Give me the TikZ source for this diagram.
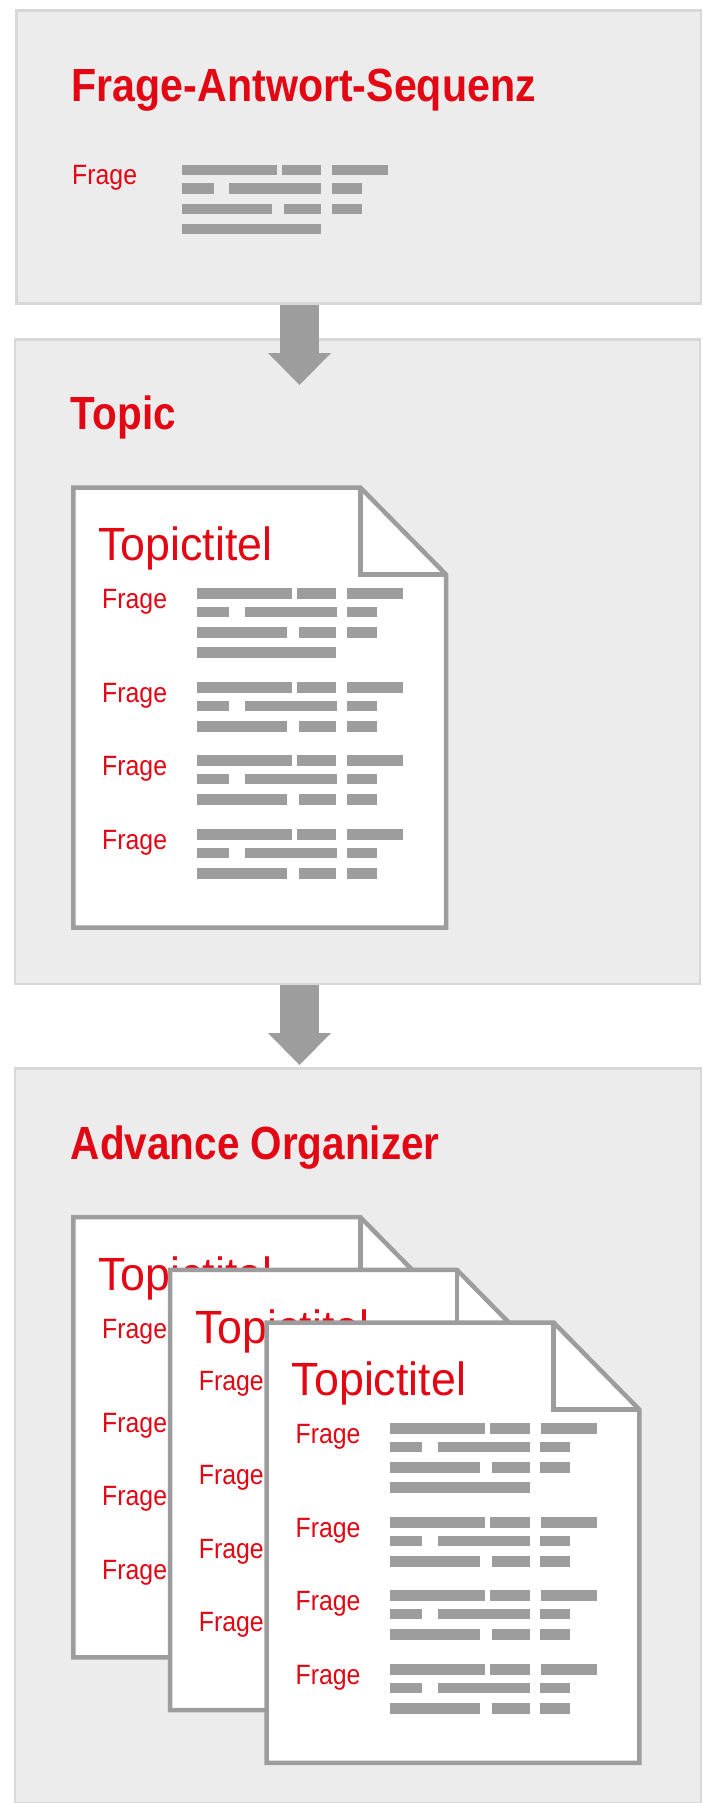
\documentclass[tikz,border=0pt]{standalone}
\usepackage{fontspec}
\setmainfont{Liberation Sans}
\newfontfamily\titlefam{Liberation Sans}[FakeStretch=0.87]
\newfontfamily\titlefamwide{Liberation Sans}[FakeStretch=0.885]
\newfontfamily\fragefam{Liberation Sans}[FakeStretch=0.89]
\newfontfamily\topicfam{Liberation Sans}[FakeStretch=0.96]
\usetikzlibrary{arrows.meta}
\definecolor{myred}{HTML}{E30613}
\definecolor{bargray}{HTML}{9D9D9D}
\definecolor{panelfill}{HTML}{ECECEC}
\definecolor{paneldraw}{HTML}{D8D8D8}
\tikzset{
  panel/.style={draw=paneldraw, fill=panelfill, line width=2.5pt, anchor=north west, inner sep=0pt},
  ptitle/.style={text=myred, font={\titlefam\bfseries\fontsize{46.5pt}{50pt}\selectfont}, inner sep=0pt, anchor=base west},
  ptitlewide/.style={ptitle, font={\titlefamwide\bfseries\fontsize{46.5pt}{50pt}\selectfont}},
  fragelbl/.style={text=myred, font={\fragefam\fontsize{27.9pt}{30pt}\selectfont}, inner sep=0pt, anchor=base west},
  topiclbl/.style={text=myred, font={\topicfam\fontsize{46.6pt}{50pt}\selectfont}, inner sep=0pt, anchor=base west},
  bar/.style={fill=bargray},
  docline/.style={draw=bargray, line width=4.5pt, line join=miter},
  bigarrow/.style={draw=bargray, line width=39pt, line cap=butt,
    -{Triangle[width=63pt,length=32pt,line width=0pt]}},
  barsthree/.pic={
    \fill[bar] (0,0) rectangle (95,10.5);
    \fill[bar] (100,0) rectangle (139.4,10.5);
    \fill[bar] (150.4,0) rectangle (206.4,10.5);
    \fill[bar] (0,18.5) rectangle (32,29);
    \fill[bar] (47.6,18.5) rectangle (139.8,29);
    \fill[bar] (150,18.5) rectangle (180,29);
    \fill[bar] (0,39) rectangle (90,49.5);
    \fill[bar] (102,39) rectangle (139.4,49.5);
    \fill[bar] (150,39) rectangle (180,49.5);
  },
  barsfour/.pic={
    \pic {barsthree};
    \fill[bar] (0,59) rectangle (139.4,69.5);
  },
  doc/.pic={
    \filldraw[docline, fill=white] (0,0) -- (287,0) -- (372.7,87) -- (372.7,440.2) -- (0,440.2) -- cycle;
    \draw[docline] (287,0) -- (287,87) -- (372.7,87);
    \node[topiclbl] (-t) at (25,73.2) {Topictitel};
    \node[fragelbl] (-f1) at (28.7,120.8) {Frage};
    \node[fragelbl] (-f2) at (28.7,214.8) {Frage};
    \node[fragelbl] (-f3) at (28.7,288.3) {Frage};
    \node[fragelbl] (-f4) at (28.7,362) {Frage};
    \pic at (123.7,100.8) {barsfour};
    \pic at (123.7,194.5) {barsthree};
    \pic at (123.7,267.8) {barsthree};
    \pic at (123.7,341.5) {barsthree};
  }
}
\begin{document}
\begin{tikzpicture}[x=1pt,y=-1pt]
\useasboundingbox (0,0) rectangle (703,1803);
\fill[white] (0,0) rectangle (703,1803);

% panels
\node[panel, minimum width=684.5pt, minimum height=292.5pt] (p1) at (15,9.5) {};
\node[panel, minimum width=685pt, minimum height=644.4pt] (p2) at (13.5,338.3) {};
\node[panel, minimum width=686pt, minimum height=734.2pt] (p3) at (13.5,1067.3) {};

% titles
\node[ptitlewide] (t1) at (71.5,102) {Frage-Antwort-Sequenz};
\node[ptitle] (t2) at (70.7,429) {Topic};
\node[ptitle] (t3) at (70.7,1159) {Advance Organizer};

% panel 1 content
\node[fragelbl] (q0) at (72,185) {Frage};
\pic at (181.6,165) {barsfour};

% panel 2 document
\pic (docT) at (73.3,487.5) {doc};

% panel 3 documents
\pic (docA) at (73.3,1217.2) {doc};
\pic (docB) at (170,1269.9) {doc};
\pic (docC) at (266.7,1322.6) {doc};

% arrows
\coordinate (tip1) at (299.5,385);
\coordinate (tip2) at (299.5,1065);
\draw[bigarrow] (p1.south -| tip1) -- (tip1);
\draw[bigarrow] (p2.south -| tip2) -- (tip2);
\end{tikzpicture}
\end{document}
